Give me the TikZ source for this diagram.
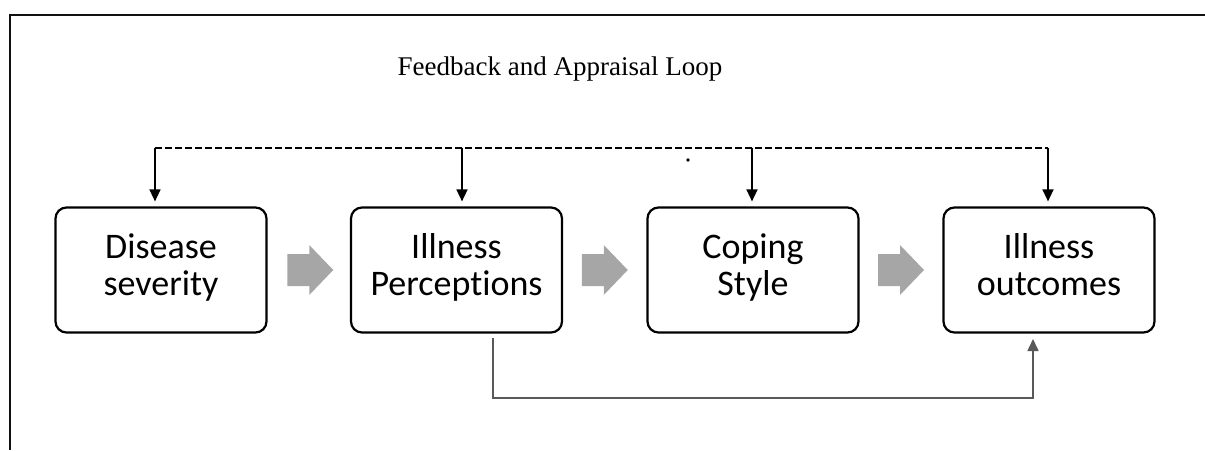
\documentclass[tikz,border=0pt]{standalone}
\usepackage{fontspec}
\setmainfont{Liberation Serif}
\newfontfamily\boxfont[Ligatures=NoCommon]{Carlito}
\usetikzlibrary{arrows.meta,calc}

\definecolor{flowgray}{HTML}{A6A6A6}
\definecolor{linkgray}{HTML}{595959}
\definecolor{framecol}{HTML}{111111}

\tikzset{
  stagebox/.style={draw=black, line width=2.2pt, rounded corners=11pt,
    minimum width=211pt, minimum height=125pt, inner sep=0pt, align=center,
    font=\boxfont\fontsize{36}{37}\selectfont},
  feedarrow/.style={line width=1.5pt, -{Triangle[length=12pt,width=11pt]}, shorten >=5pt},
  loopline/.style={line width=2pt, dash pattern=on 6.5pt off 3.5pt},
  linkarrow/.style={draw=linkgray, line width=1.6pt, -{Triangle[length=12pt,width=11pt]}},
  pics/flowarrow/.style={code={
    \fill[flowgray] (-23,-16) -- (-1,-16) -- (-1,-25) -- (23,0) -- (-1,25)
      -- (-1,16) -- (-23,16) -- cycle;}}
}

\newcommand{\twolines}[2]{\strut #1\\\strut #2}

\begin{document}
\begin{tikzpicture}[x=1pt,y=-1pt]
  \useasboundingbox (0,0) rectangle (1205,450);

  % outer frame (top and left edges)
  \coordinate (fbl) at (10,450);
  \coordinate (ftl) at (10,15);
  \coordinate (ftr) at (1205,15);
  \draw[framecol, line width=2.5pt] (fbl) -- (ftl) -- (ftr);

  % title
  \node[anchor=base, font=\fontsize{27}{32}\selectfont, inner sep=0pt] (title) at (560,75.5)
    {Feedback and Appraisal Loop};

  % the four stages
  \node[stagebox] (b1) at (161,270)   {\twolines{Disease}{severity}};
  \node[stagebox] (b2) at (456.5,270) {\twolines{Illness}{Perceptions}};
  \node[stagebox] (b3) at (753,270)   {\twolines{Coping}{Style}};
  \node[stagebox] (b4) at (1049,270)  {\twolines{Illness}{outcomes}};

  % forward flow arrows between the stages
  \pic at ($(b1.east)!0.5!(b2.west)+(1.5,0)$) {flowarrow};
  \pic at ($(b2.east)!0.5!(b3.west)$) {flowarrow};
  \pic at ($(b3.east)!0.5!(b4.west)$) {flowarrow};

  % feedback loop over the top
  \coordinate (fb1) at (155,147.5);
  \coordinate (fb2) at (462,147.5);
  \coordinate (fb3) at (752,147.5);
  \coordinate (fb4) at (1048,147.5);
  \draw[loopline] (fb1) -- (fb4);
  \draw[feedarrow] (fb1) -- (fb1 |- b1.north);
  \draw[feedarrow] (fb2) -- (fb2 |- b2.north);
  \draw[feedarrow] (fb3) -- (fb3 |- b3.north);
  \draw[feedarrow] (fb4) -- (fb4 |- b4.north);
  \fill (688,160) circle (1.8pt);

  % direct link from perceptions to outcomes
  \coordinate (ls) at (493,338);
  \coordinate (le) at (1033,339);
  \draw[linkarrow] (ls) -- (493,398) -- (1033,398) -- (le);
\end{tikzpicture}
\end{document}
